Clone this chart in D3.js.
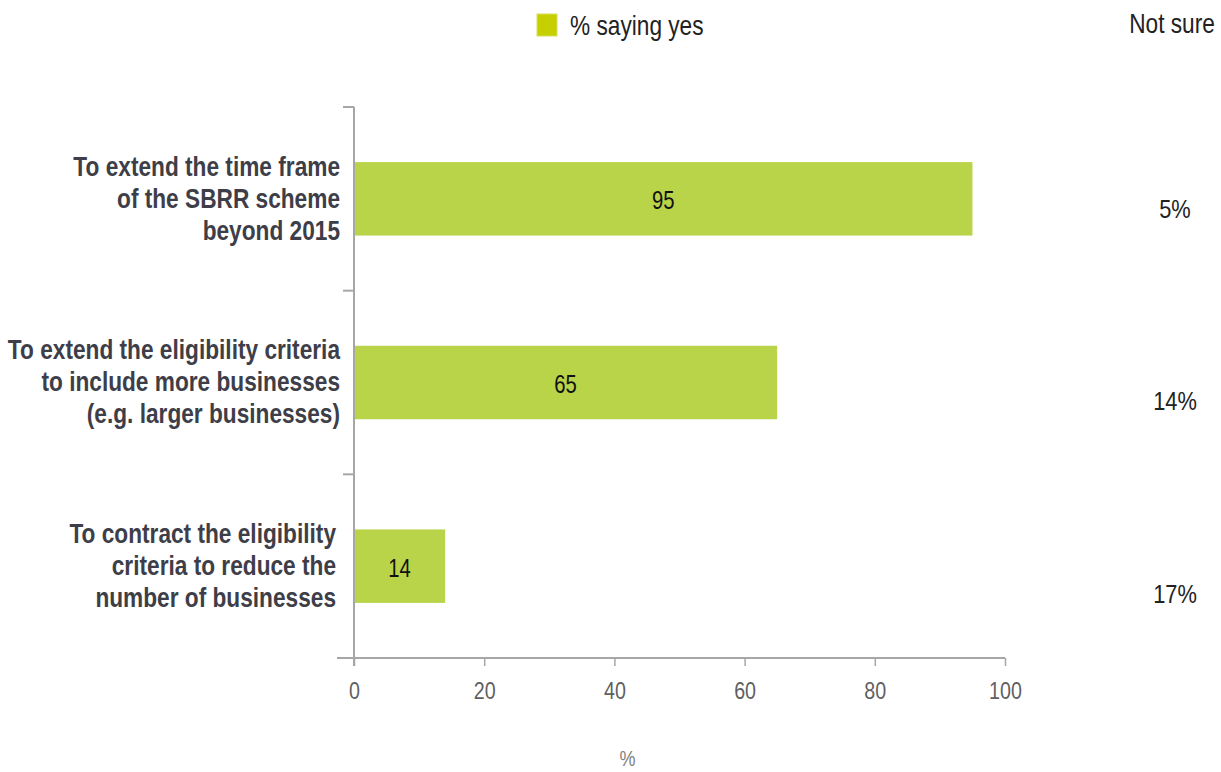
<!DOCTYPE html>
<html>
<head>
<meta charset="utf-8">
<script src="https://cdn.jsdelivr.net/npm/d3@7"></script>
<style>
  html, body { margin: 0; padding: 0; background: #fff; }
  svg { display: block; }
  text { font-family: "Liberation Sans", Arial, sans-serif; }
</style>
</head>
<body>
<svg id="chart" width="1221" height="772"></svg>
<script>
const categories = [
  ["To extend the time frame", "of the SBRR scheme", "beyond 2015"],
  ["To extend the eligibility criteria", "to include more businesses", "(e.g. larger businesses)"],
  ["To contract the eligibility", "criteria to reduce the", "number of businesses"]
];
const yesValues = [95, 65, 14];
const notSureValues = ["5%", "14%", "17%"];
const xTicks = [0, 20, 40, 60, 80, 100];
const legendLabel = "% saying yes";
const notSureLabel = "Not sure";
const axisTitle = "%";

const svg = d3.select("#chart");
const margin = {left: 354, top: 107, right: 216, bottom: 114};
const W = 1221 - margin.left - margin.right;
const H = 772 - margin.top - margin.bottom;
const g = svg.append("g").attr("transform", `translate(${margin.left},${margin.top})`);

function narrow(parent, x, y, s) {
  return parent.append("g").attr("transform", `translate(${x},${y}) scale(${s || 0.82},1)`)
    .append("text").attr("x", 0).attr("y", 0);
}

const keys = categories.map((c, i) => i);
const x = d3.scaleLinear().domain([0, 100]).range([0, W]);
const y = d3.scaleBand().domain(keys).range([0, H]).paddingInner(0.6).paddingOuter(0.3);
const yb = d3.scaleBand().domain(keys).range([0, H]);

// bars
g.selectAll("rect.bar").data(yesValues).enter().append("rect")
  .attr("class", "bar")
  .attr("x", x(0) + 1)
  .attr("y", (d, i) => y(i))
  .attr("width", d => x(d) - x(0) - 1)
  .attr("height", y.bandwidth())
  .attr("fill", "#b9d448");

// bar value labels
yesValues.forEach((d, i) => {
  narrow(g, (x(0) + x(d)) / 2, y(i) + y.bandwidth() / 2 + 1, 0.78)
    .attr("dy", "0.36em").attr("text-anchor", "middle")
    .attr("font-size", 26).attr("fill", "#111").text(d);
});

// y axis line with category boundary ticks
const axisColor = "#a6a6a6";
g.append("line").attr("x1", 0).attr("x2", 0).attr("y1", 0).attr("y2", H + 8)
  .attr("stroke", axisColor).attr("stroke-width", 2);
const boundaries = keys.map(k => yb(k)).concat([H]);
g.selectAll("line.ytick").data(boundaries).enter().append("line")
  .attr("x1", -11).attr("x2", 0)
  .attr("y1", d => d).attr("y2", d => d)
  .attr("stroke", axisColor).attr("stroke-width", 2);

// x axis
const xAxis = d3.axisBottom(x).tickValues(xTicks).tickSize(8).tickPadding(16);
const xg = g.append("g").attr("transform", `translate(0,${H})`).call(xAxis);
xg.select(".domain").remove();
xg.append("line").attr("x1", -17).attr("x2", W).attr("y1", 0).attr("y2", 0)
  .attr("stroke", axisColor).attr("stroke-width", 2);
xg.selectAll(".tick line").attr("stroke", axisColor).attr("stroke-width", 1.5);
xg.selectAll(".tick text").attr("font-size", 24).attr("fill", "#5f5f5f")
  .attr("font-family", "'Liberation Sans', Arial, sans-serif")
  .attr("transform", "scale(0.82,1)");

// axis title
narrow(svg, margin.left + x(42), 766)
  .attr("text-anchor", "middle").attr("font-size", 22).attr("fill", "#808080")
  .text(axisTitle);

// category labels
categories.forEach((lines, i) => {
  const cy = margin.top + yb(i) + yb.bandwidth() / 2 - 1;
  const rx = margin.left - 14 - (i === 2 ? 4 : 0);
  const t = narrow(svg, rx, cy, 0.84)
    .attr("text-anchor", "end")
    .attr("font-size", 27)
    .attr("font-weight", "bold")
    .attr("fill", "#3e3e48");
  lines.forEach((ln, j) => {
    t.append("tspan").attr("x", 0)
      .attr("y", (j - 1) * 32).attr("dy", "0.36em").text(ln);
  });
});

// legend
svg.append("rect").attr("x", 537).attr("y", 14).attr("width", 20).attr("height", 22)
  .attr("fill", "#c6cf00").attr("stroke", "#d9df5a").attr("stroke-width", 1);
narrow(svg, 570, 25, 0.84).attr("dy", "0.36em")
  .attr("font-size", 27).attr("fill", "#222").text(legendLabel);

// Not sure column
narrow(svg, 1172, 23, 0.84).attr("dy", "0.36em")
  .attr("text-anchor", "middle").attr("font-size", 27).attr("fill", "#222").text(notSureLabel);
notSureValues.forEach((d, i) => {
  narrow(svg, 1175, margin.top + y(i) + y.bandwidth() / 2 + 10 + i * 8.5, 0.84)
    .attr("dy", "0.36em").attr("text-anchor", "middle")
    .attr("font-size", 26).attr("fill", "#222").text(d);
});
</script>
</body>
</html>
